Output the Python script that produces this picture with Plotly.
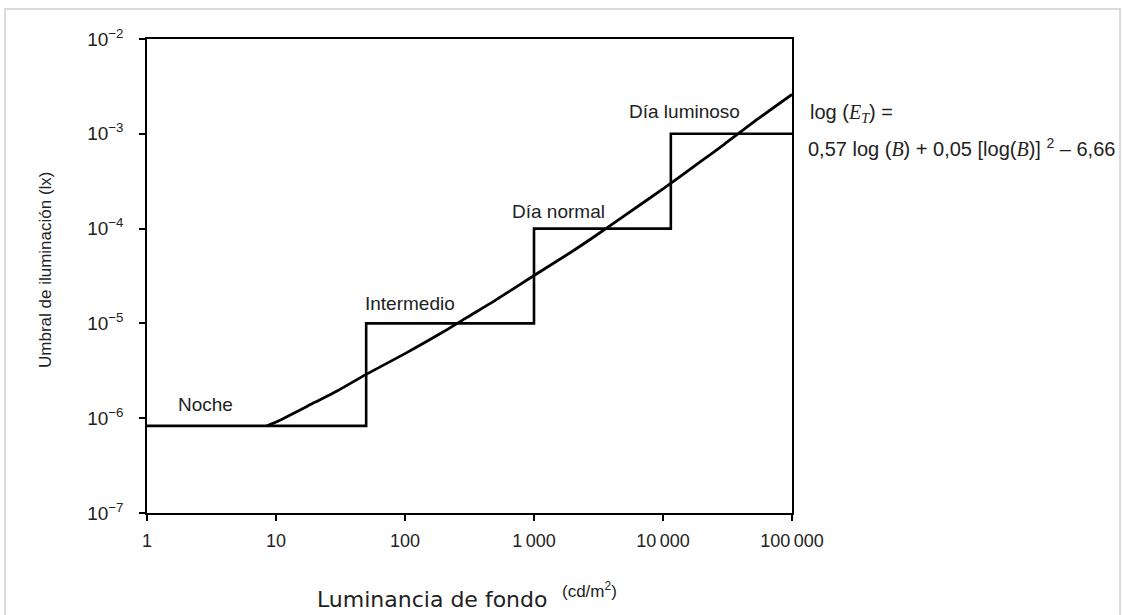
import math
import plotly.graph_objects as go

# Step function (vision regimes)
step_x = [1, 50, 50, 1000, 1000, 11500, 11500, 100000]
step_y = [8.3e-7, 8.3e-7, 1e-5, 1e-5, 1e-4, 1e-4, 1e-3, 1e-3]

# Threshold curve values
curve_x = [8.5, 10, 20, 30, 50, 100, 200, 300, 500, 1000, 2000, 3000, 5000,
           10000, 20000, 30000, 50000, 100000]
curve_y = [8.3e-7, 9.1e-7, 1.47e-6, 1.95e-6, 2.9e-6, 4.8e-6, 8.2e-6, 1.15e-5,
           1.75e-5, 3.2e-5, 5.8e-5, 8.4e-5, 1.36e-4, 2.63e-4, 5.2e-4, 7.8e-4,
           1.32e-3, 2.6e-3]

# Regime labels
label_text = ["Noche", "Intermedio", "Día normal", "Día luminoso"]
label_x = [2.82, 109, 1560, 14800]
label_y = [1.41e-6, 1.64e-5, 1.5e-4, 1.7e-3]

x_tickvals = [1, 10, 100, 1000, 10000, 100000]
x_ticktext = ["1", "10", "100", "1\u2009000", "10\u2009000", "100\u2009000"]
y_tickvals = [1e-7, 1e-6, 1e-5, 1e-4, 1e-3, 1e-2]
y_ticktext = ["10<sup>\u22127</sup>", "10<sup>\u22126</sup>", "10<sup>\u22125</sup>",
              "10<sup>\u22124</sup>", "10<sup>\u22123</sup>", "10<sup>\u22122</sup>"]

FONT = "Liberation Sans, Arial, sans-serif"
TXT = "#222"

fig = go.Figure()
fig.add_trace(go.Scatter(x=step_x, y=step_y, mode="lines",
                         line=dict(color="black", width=2.6), hoverinfo="skip"))
fig.add_trace(go.Scatter(x=curve_x, y=curve_y, mode="lines",
                         line=dict(color="black", width=2.8, shape="spline", smoothing=0.6),
                         hoverinfo="skip"))

for t, x, y in zip(label_text, label_x, label_y):
    fig.add_annotation(x=math.log10(x), y=math.log10(y), text=t, showarrow=False,
                       font=dict(family=FONT, size=19, color=TXT))

W, H = 1123, 615
L, R, T, B = 147, 792, 39, 513


def px(xp):
    return (xp - L) / (R - L)


def py(yp):
    return (B - yp) / (B - T)


serif = "font-family:'Liberation Serif', 'Times New Roman', serif"
fig.add_annotation(xref="paper", yref="paper", x=px(808), y=py(114), xanchor="left",
                   yanchor="middle", showarrow=False, align="left",
                   text=f"log (<span style=\"{serif}\"><i>E<sub>T</sub></i></span>) =",
                   font=dict(family=FONT, size=20, color=TXT))
fig.add_annotation(xref="paper", yref="paper", x=px(806), y=py(147), xanchor="left",
                   yanchor="middle", showarrow=False, align="left",
                   text=(f"0,57 log (<span style=\"{serif}\"><i>B</i></span>) + 0,05 "
                         f"[log(<span style=\"{serif}\"><i>B</i></span>)] <sup>2</sup> \u2013 6,66"),
                   font=dict(family=FONT, size=20, color=TXT))

# axis titles
fig.add_annotation(xref="paper", yref="paper", x=px(315), y=py(599), xanchor="left",
                   yanchor="middle", showarrow=False,
                   text="Luminancia de fondo",
                   font=dict(family="DejaVu Sans, sans-serif", size=22, color=TXT))
fig.add_annotation(xref="paper", yref="paper", x=px(560), y=py(590), xanchor="left",
                   yanchor="middle", showarrow=False,
                   text="(cd/m<sup>2</sup>)",
                   font=dict(family=FONT, size=17, color=TXT))
fig.add_annotation(xref="paper", yref="paper", x=px(45), y=py(270), xanchor="center",
                   yanchor="middle", showarrow=False, textangle=-90,
                   text="Umbral de iluminación (lx)",
                   font=dict(family=FONT, size=17, color=TXT))

# light frame around the figure
fig.add_shape(type="rect", xref="paper", yref="paper",
              x0=px(5), x1=px(1120), y0=py(640), y1=py(9),
              line=dict(color="#cfcfcf", width=1.5), fillcolor="rgba(0,0,0,0)", layer="below")

fig.update_xaxes(type="log", range=[0, 5], tickvals=x_tickvals, ticktext=x_ticktext,
                 showgrid=False, zeroline=False, showline=True, linecolor="black",
                 linewidth=1.5, mirror=True, ticks="outside", ticklen=6, tickwidth=1.5,
                 tickcolor="black", ticklabelstandoff=5,
                 tickfont=dict(family=FONT, size=18, color=TXT))
fig.update_yaxes(type="log", range=[-7, -2], tickvals=y_tickvals, ticktext=y_ticktext,
                 showgrid=False, zeroline=False, showline=True, linecolor="black",
                 linewidth=1.5, mirror=True, ticks="outside", ticklen=6, tickwidth=1.5,
                 tickcolor="black", ticklabelstandoff=12,
                 tickfont=dict(family=FONT, size=19, color=TXT))

fig.update_layout(width=W, height=H, showlegend=False,
                  paper_bgcolor="white", plot_bgcolor="white",
                  margin=dict(l=L, r=W - R, t=T, b=H - B))

fig.write_html("out.html", config={"displayModeBar": False},
               post_script="document.body.style.margin='0';document.body.style.overflow='hidden';")
